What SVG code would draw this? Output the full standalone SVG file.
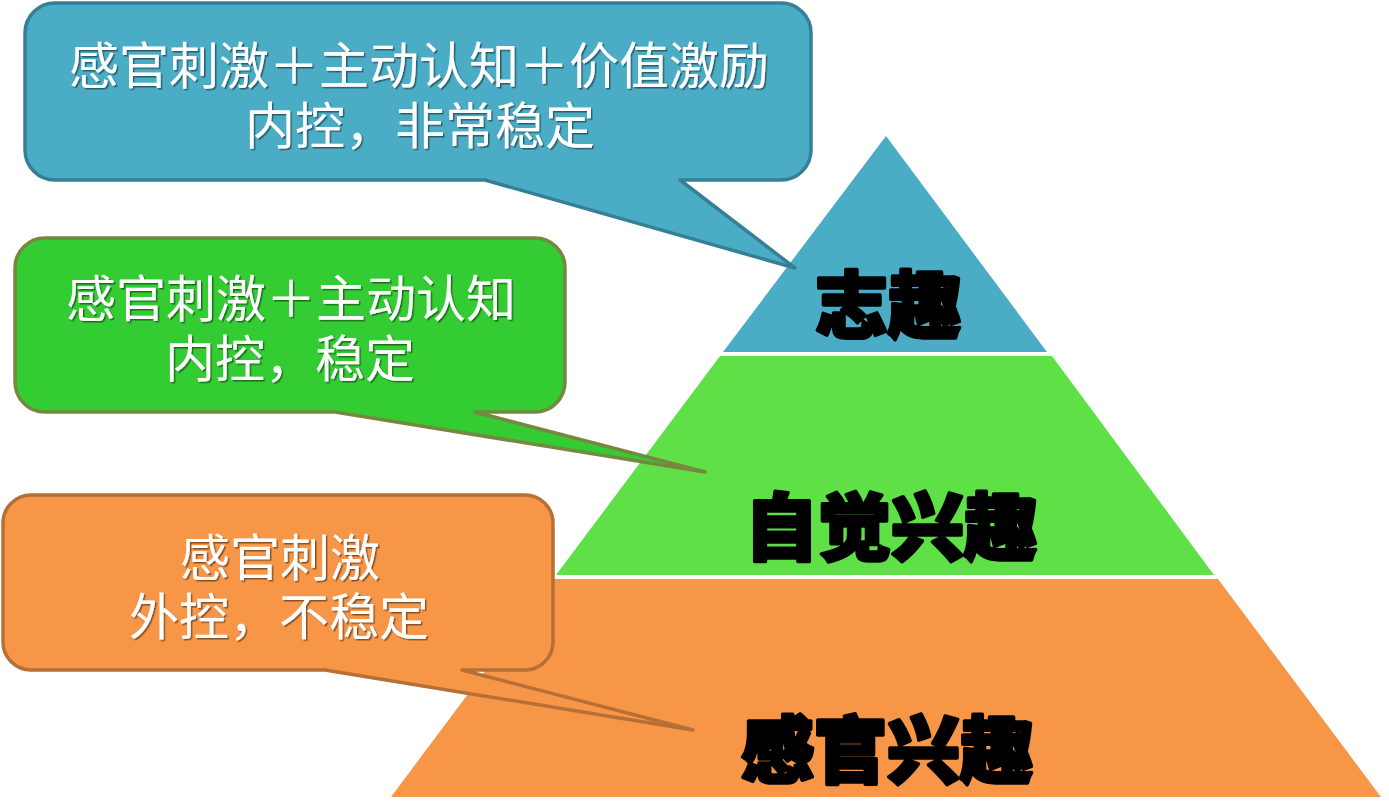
<svg xmlns="http://www.w3.org/2000/svg" width="1389" height="802" viewBox="0 0 1389 802">
  <defs>
    <filter id="sh" x="-5%" y="-20%" width="110%" height="140%">
      <feDropShadow dx="1.5" dy="1.5" stdDeviation="0.6" flood-color="#000000" flood-opacity="0.45"/>
    </filter>
  </defs>
  <style>
    .lbl { font-family: "Noto Sans CJK SC", "Noto Sans", sans-serif; font-size: 50px; fill: #ffffff; text-anchor: middle; }
    .lvl { font-family: "Noto Sans CJK SC", "Noto Sans", sans-serif; font-size: 73px; font-weight: 900; fill: #000000; stroke: #000000; stroke-width: 3.5; stroke-linejoin: round; text-anchor: middle; }
    .call { stroke-width: 3.5; stroke-linejoin: round; }
  </style>
  <rect width="1389" height="802" fill="#ffffff"/>

  <g id="level-top">
    <polygon points="886,136 1047,352 723,352" fill="#4bacc6"/>
    <text class="lvl" x="888" y="332">志趣</text>
  </g>
  <g id="level-middle">
    <polygon points="720,356 1052,356 1214,575 556,575" fill="#5fe046"/>
    <text class="lvl" x="891" y="554">自觉兴趣</text>
  </g>
  <g id="level-bottom">
    <polygon points="554,579 1218,579 1381,797 391,797" fill="#f79646"/>
    <text class="lvl" x="887" y="777">感官兴趣</text>
  </g>

  <g id="connectors"></g>

  <g id="callout-top">
    <path class="call" fill="#4bacc6" stroke="#367f97" d="M55,3 H781 A30,30 0 0 1 811,33 V150 A30,30 0 0 1 781,180 H680 L795,268 L485,180 H55 A30,30 0 0 1 25,150 V33 A30,30 0 0 1 55,3 Z"/>
    <g filter="url(#sh)">
      <text class="lbl" x="419" y="84">感官刺激＋主动认知＋价值激励</text>
      <text class="lbl" x="420" y="144">内控，非常稳定</text>
    </g>
  </g>
  <g id="callout-middle">
    <path class="call" fill="#33cc33" stroke="#76883f" d="M45,238 H535 A30,30 0 0 1 565,268 V382 A30,30 0 0 1 535,412 H475 L705,472 L335,412 H45 A30,30 0 0 1 15,382 V268 A30,30 0 0 1 45,238 Z"/>
    <g filter="url(#sh)">
      <text class="lbl" x="291" y="317">感官刺激＋主动认知</text>
      <text class="lbl" x="290" y="377">内控，稳定</text>
    </g>
  </g>
  <g id="callout-bottom">
    <path class="call" fill="#f79646" stroke="#b66f36" d="M31,495 H525 A28,28 0 0 1 553,523 V642 A28,28 0 0 1 525,670 H462 L693,730 L325,670 H31 A28,28 0 0 1 3,642 V523 A28,28 0 0 1 31,495 Z"/>
    <g filter="url(#sh)">
      <text class="lbl" x="280" y="576">感官刺激</text>
      <text class="lbl" x="279" y="635">外控，不稳定</text>
    </g>
  </g>
</svg>
